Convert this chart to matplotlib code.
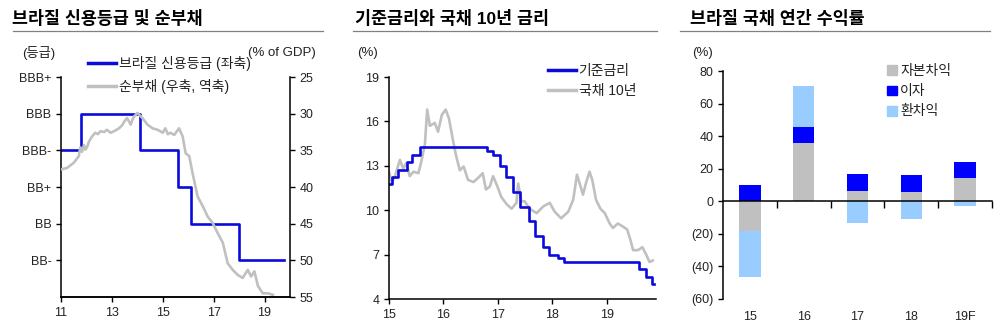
import matplotlib
matplotlib.use("Agg")
import matplotlib.pyplot as plt
from matplotlib.lines import Line2D
from matplotlib.patches import Patch
import numpy as np

plt.rcParams['font.family'] = ['Liberation Sans', 'Noto Sans CJK KR']
plt.rcParams['font.size'] = 9
plt.rcParams['axes.unicode_minus'] = False

BLUE = '#0A0ADC'
GRAY = '#C0C0C0'
LIGHT = '#99CCFF'
INK = '#222222'

# --- panel 1: credit rating (step) and net debt (% of GDP) ---
rating_dates = [11.0, 11.8, 14.1, 15.6, 16.1, 18.0, 19.75]
rating_levels = [4, 5, 4, 3, 2, 1, 1]
rating_labels = ['BB-', 'BB', 'BB+', 'BBB-', 'BBB', 'BBB+']

debt_dates = [11.0, 11.24, 11.5, 11.7, 11.76, 11.83, 11.9, 11.96, 12.03, 12.1, 12.22,
              12.35, 12.45, 12.55, 12.7, 12.8, 12.95, 13.08, 13.28, 13.4, 13.5, 13.6,
              13.74, 13.8, 13.87, 14.0, 14.2, 14.4, 14.6, 14.8, 15.0, 15.1, 15.2, 15.3,
              15.45, 15.64, 15.78, 15.9, 16.04, 16.17, 16.37, 16.57, 16.76, 16.96,
              17.16, 17.36, 17.55, 17.75, 17.95, 18.14, 18.34, 18.47, 18.6, 18.74,
              18.93, 19.13, 19.33]
debt_values = [37.6, 37.4, 36.7, 35.8, 34.6, 35.2, 34.3, 34.9, 34.5, 33.8, 33.1,
               32.6, 32.8, 32.4, 32.5, 32.2, 32.6, 32.4, 32.0, 31.6, 31.0, 30.6,
               31.5, 30.9, 30.4, 29.9, 30.6, 31.5, 32.0, 32.2, 32.6, 32.0, 32.8, 32.6,
               32.9, 32.0, 33.1, 35.4, 35.8, 38.1, 41.3, 42.6, 44.0, 44.9,
               46.3, 47.6, 50.4, 51.3, 52.0, 52.4, 51.3, 52.2, 51.5, 53.5,
               54.5, 54.5, 54.7]

# --- panel 2: Selic policy rate and 10y bond yield ---
selic_dates = [15.0, 15.055, 15.17, 15.33, 15.42, 15.57, 16.80, 16.91, 17.03, 17.14,
               17.28, 17.41, 17.57, 17.68, 17.82, 17.93, 18.10, 18.22, 19.58, 19.71,
               19.83, 19.87]
selic_rates = [11.75, 12.25, 12.75, 13.25, 13.75, 14.25, 14.0, 13.75, 13.0, 12.25,
               11.25, 10.25, 9.25, 8.25, 7.5, 7.0, 6.75, 6.5, 6.0, 5.5,
               5.0, 5.0]

bond_dates = [15.0, 15.05, 15.11, 15.2, 15.26, 15.32, 15.38, 15.45, 15.54, 15.6,
              15.66, 15.7, 15.75, 15.84, 15.9, 15.97, 16.04, 16.1, 16.17, 16.23,
              16.3, 16.37, 16.45, 16.55, 16.64, 16.72, 16.78, 16.85, 16.91, 16.99,
              17.06, 17.16, 17.25, 17.34, 17.37, 17.43, 17.49, 17.58, 17.71, 17.83,
              17.95, 18.04, 18.16, 18.29, 18.38, 18.45, 18.5, 18.56, 18.62, 18.68,
              18.73, 18.8, 18.88, 18.96, 19.05, 19.11, 19.2, 19.29, 19.37, 19.43,
              19.48, 19.57, 19.65, 19.72, 19.78, 19.84]
bond_yields = [12.6, 11.9, 12.3, 13.4, 12.8, 13.2, 12.3, 12.6, 12.5, 13.4,
               14.5, 16.8, 15.7, 15.9, 15.3, 16.45, 16.8, 16.2, 14.8, 13.7,
               12.7, 12.95, 12.05, 11.9, 12.2, 12.5, 11.4, 11.6, 12.3, 11.6,
               10.9, 10.4, 10.1, 10.5, 11.8, 10.6, 10.6, 10.1, 9.8, 10.25,
               10.5, 9.9, 9.45, 9.9, 10.7, 12.4, 11.8, 11.05, 11.9, 12.6,
               12.05, 10.7, 10.1, 9.8, 9.1, 8.8, 9.1, 8.9, 8.7, 8.0,
               7.3, 7.3, 7.5, 7.0, 6.5, 6.6]

# --- panel 3: annual return breakdown ---
years = ['15', '16', '17', '18', '19F']
capital = [-18, 36, 6.5, 6, 14]
interest = [10, 9.7, 10.2, 10, 10.2]
fx = [-28.5, 25.3, -13.3, -11.1, -2.8]


def px_axes(left, right, top, bottom):
    W, H = 1000, 332
    return fig.add_axes([left / W, 1 - bottom / H, (right - left) / W, (bottom - top) / H])


def header(x0, x1, x_text, title):
    fig.text(x_text / 1000, 1 - 18 / 332, title, fontsize=12.5, fontweight='bold',
             va='center', ha='left', color='black')
    fig.add_artist(Line2D([x0 / 1000, x1 / 1000], [1 - 31 / 332] * 2, color='#808080', lw=0.9))


def style(ax):
    ax.tick_params(direction='out', length=3.5, width=1, colors='black', labelcolor=INK, labelsize=9)
    for s in ax.spines.values():
        s.set_linewidth(1.1)
        s.set_color('black')


fig = plt.figure(figsize=(10, 3.32), dpi=100)

# ---------- panel 1 ----------
header(13, 323, 12, '브라질 신용등급 및 순부채')
ax1 = px_axes(61, 290, 77, 297)
ax1.step(rating_dates, rating_levels, where='post', color=BLUE, lw=1.9, zorder=2)
ax1.set_ylim(0, 6)
ax1.set_yticks(range(1, 7))
ax1.set_yticklabels(rating_labels)
ax1.set_xlim(11, 20)
ax1.set_xticks([11, 13, 15, 17, 19])
ax1.spines['top'].set_visible(False)
ax1.spines['right'].set_visible(False)
style(ax1)

ax1r = ax1.twinx()
ax1r.plot(debt_dates, debt_values, color=GRAY, lw=1.9)
ax1r.set_ylim(55, 25)
ax1r.set_yticks([25, 30, 35, 40, 45, 50, 55])
ax1r.spines['top'].set_visible(False)
ax1r.spines['left'].set_visible(False)
style(ax1r)

fig.text(22 / 1000, 1 - 53 / 332, '(등급)', fontsize=9.5, va='center', color=INK)
fig.text(316 / 1000, 1 - 53 / 332, '(% of GDP)', fontsize=9.5, va='center', ha='right', color=INK)
h1 = [Line2D([], [], color=BLUE, lw=2.5), Line2D([], [], color=GRAY, lw=2.5)]
fig.legend(h1, ['브라질 신용등급 (좌축)', '순부채 (우축, 역축)'], loc='upper left',
           bbox_to_anchor=(88 / 1000, 1 - 56 / 332), frameon=False, borderpad=0,
           borderaxespad=0, handlelength=2.0, handletextpad=0.2, labelspacing=0.6,
           fontsize=10, labelcolor=INK)

# ---------- panel 2 ----------
header(353, 657, 355, '기준금리와 국채 10년 금리')
ax2 = px_axes(389, 656, 77, 299)
ax2.plot(bond_dates, bond_yields, color=GRAY, lw=1.9)
ax2.step(selic_dates, selic_rates, where='post', color=BLUE, lw=1.9)
ax2.set_xlim(15, 19.9)
ax2.set_ylim(4, 19)
ax2.set_yticks([4, 7, 10, 13, 16, 19])
ax2.set_xticks([15, 16, 17, 18, 19])
ax2.spines['top'].set_visible(False)
ax2.spines['right'].set_visible(False)
style(ax2)

fig.text(357 / 1000, 1 - 53 / 332, '(%)', fontsize=9.5, va='center', color=INK)
h2 = [Line2D([], [], color=BLUE, lw=2.5), Line2D([], [], color=GRAY, lw=2.5)]
fig.legend(h2, ['기준금리', '국채 10년'], loc='upper left',
           bbox_to_anchor=(548 / 1000, 1 - 64 / 332), frameon=False, borderpad=0,
           borderaxespad=0, handlelength=2.0, handletextpad=0.2, labelspacing=0.45,
           fontsize=10, labelcolor=INK)

# ---------- panel 3 ----------
header(680, 990, 690, '브라질 국채 연간 수익률')
ax3 = px_axes(723, 992, 71, 299)
xpos = np.arange(len(years))
pos_base = np.zeros(len(years))
neg_base = np.zeros(len(years))
for vals, col, lab in [(capital, GRAY, '자본차익'), (interest, '#0000FF', '이자'), (fx, LIGHT, '환차익')]:
    vals = np.array(vals, dtype=float)
    base = np.where(vals >= 0, pos_base, neg_base)
    ax3.bar(xpos, vals, bottom=base, width=0.4, color=col, label=lab)
    pos_base = pos_base + np.where(vals >= 0, vals, 0)
    neg_base = neg_base + np.where(vals < 0, vals, 0)

ax3.set_xlim(-0.5, 4.5)
ax3.set_ylim(-60, 80)
ax3.set_yticks(range(-60, 81, 20))
ax3.set_yticklabels([f'({-v})' if v < 0 else str(v) for v in range(-60, 81, 20)])
ax3.set_xticks(xpos + 0.5)
ax3.set_xticklabels([])
ax3.spines['bottom'].set_position(('data', 0))
ax3.spines['top'].set_visible(False)
ax3.spines['right'].set_visible(False)
style(ax3)
ax3.tick_params(axis='x', length=5)
for i, y in enumerate(years):
    ax3.text(xpos[i], -0.08, y, transform=ax3.get_xaxis_transform(), ha='center', va='center',
             fontsize=9, color=INK)

fig.text(692 / 1000, 1 - 53 / 332, '(%)', fontsize=9.5, va='center', color=INK)
h3 = [Patch(color=GRAY), Patch(color='#0000FF'), Patch(color=LIGHT)]
fig.legend(h3, ['자본차익', '이자', '환차익'], loc='upper left',
           bbox_to_anchor=(887 / 1000, 1 - 64 / 332), frameon=False, borderpad=0,
           borderaxespad=0, handlelength=0.7, handleheight=0.7, handletextpad=0.25,
           labelspacing=0.45, fontsize=10, labelcolor=INK)

fig.savefig('out.png', dpi=100)
